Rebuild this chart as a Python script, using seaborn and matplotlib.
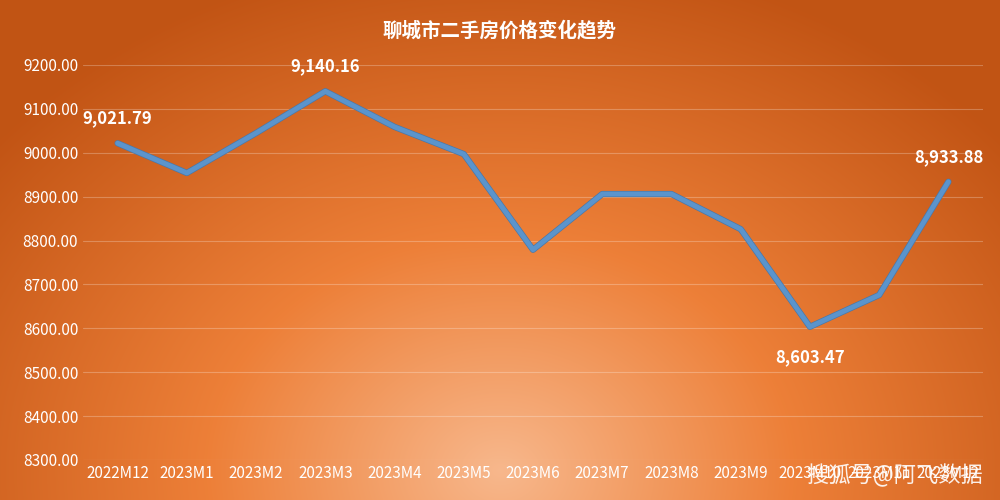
import numpy as np
import pandas as pd
import matplotlib
matplotlib.use("Agg")
import matplotlib.pyplot as plt
import matplotlib.patheffects as pe
import seaborn as sns

months = ["2022M12","2023M1","2023M2","2023M3","2023M4","2023M5","2023M6",
          "2023M7","2023M8","2023M9","2023M10","2023M11","2023M12"]
prices = [9021.79, 8954, 9045, 9140.16, 9059, 8997, 8779, 8906, 8906, 8826, 8603.47, 8676, 8933.88]
labeled = {0: "9,021.79", 3: "9,140.16", 10: "8,603.47", 12: "8,933.88"}
yticks = [8300, 8400, 8500, 8600, 8700, 8800, 8900, 9000, 9100, 9200]

sns.set_theme(style="white")
plt.rcParams['font.family'] = ['Noto Sans CJK SC', 'DejaVu Sans']

fig = plt.figure(figsize=(10, 5), dpi=100)
bg = fig.add_axes([0, 0, 1, 1], zorder=-10)
yy, xx = np.mgrid[0:500, 0:1000]
d = np.sqrt(((xx - 500) / 650.0) ** 2 + ((yy - 470) / 520.0) ** 2)
d = np.clip(d, 0, 1)[..., None]
inner = np.array([0.97, 0.72, 0.55])
mid = np.array([0.93, 0.50, 0.22])
outer = np.array([0.76, 0.33, 0.08])
t = d
img = np.where(t < 0.45, inner + (mid - inner) * (t / 0.45), mid + (outer - mid) * ((t - 0.45) / 0.55))
bg.imshow(img, aspect='auto', extent=[0, 1, 0, 1])
bg.axis('off')

ax = fig.add_axes([0.083, 0.08, 0.90, 0.79])
ax.patch.set_alpha(0)
df = pd.DataFrame({"m": months, "p": prices, "x": range(len(months))})
sns.lineplot(data=df, x="x", y="p", ax=ax, color="#5b94cc", lw=3.5,
             path_effects=[pe.Stroke(linewidth=4.5, foreground="#4a78a8"), pe.Normal()])
ax.set_xlim(-0.5, len(months) - 0.5)
ax.set_ylim(8300, 9200)
ax.set_yticks(yticks)
ax.set_yticklabels([f"{v:.2f}" for v in yticks], color="white", fontsize=11)
ax.set_xticks(range(len(months)))
ax.set_xticklabels(months, color="white", fontsize=11)
ax.set_xlabel(""); ax.set_ylabel("")
ax.grid(axis='y', color='white', alpha=0.25, lw=0.8)
for s in ax.spines.values():
    s.set_visible(False)
ax.tick_params(length=0)
for i, lab in labeled.items():
    off = -22 if i == 10 else 18
    ax.annotate(lab, (i, prices[i]), xytext=(0, off), textcoords='offset points',
                ha='center', va='center', color='white', fontsize=12, fontweight='bold',
                annotation_clip=False)
fig.text(0.5, 0.94, "聊城市二手房价格变化趋势", ha='center', va='center', color='white',
         fontsize=14, fontweight='bold')
fig.text(0.895, 0.05, "搜狐号@阿飞数据", ha='center', va='center', color='white',
         fontsize=16, alpha=0.9)
fig.savefig("out.png", dpi=100)
